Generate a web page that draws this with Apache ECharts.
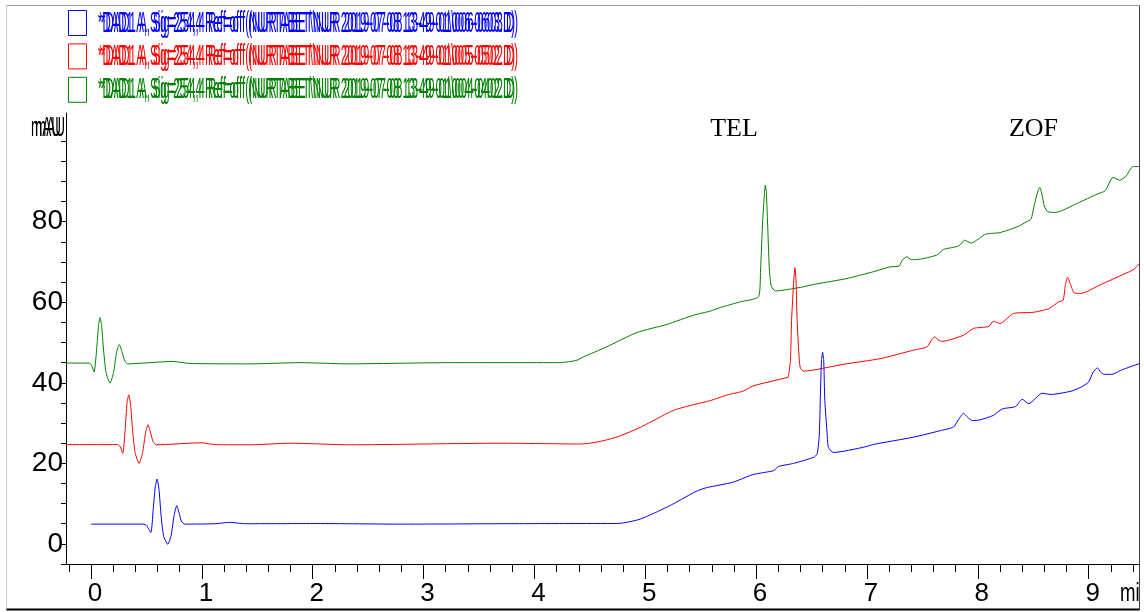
<!DOCTYPE html>
<html>
<head>
<meta charset="utf-8">
<script src="https://cdn.jsdelivr.net/npm/echarts@6/dist/echarts.min.js"></script>
<style>
  html, body { margin: 0; padding: 0; background: #fff; }
  #chart { width: 1144px; height: 612px; }
</style>
</head>
<body>
<div id="chart"></div>
<script>
// Run names and colours (one per overlaid DAD trace)
const runNames = [
  '*DAD1 A, Sig=254,4 Ref=off (NURTABET\\NUR 2019-07-08 13-49-01\\006-0603.D)',
  '*DAD1 A, Sig=254,4 Ref=off (NURTABET\\NUR 2019-07-08 13-49-01\\005-0502.D)',
  '*DAD1 A, Sig=254,4 Ref=off (NURTABET\\NUR 2019-07-08 13-49-01\\004-0402.D)'
];
const runColors = ['#0000ff', '#ff0000', '#008000'];

// Traces as [time (min), signal (mAU)], already carrying the overlay offsets
const blueTrace = [
  [0, 4.9], [0.469, 4.9], [0.50, 4.6], [0.539, 2.8], [0.560, 8.2], [0.578, 13.9], [0.596, 16.1],
  [0.614, 13.2], [0.632, 7.0], [0.654, 2.0], [0.692, -0.1], [0.722, 2.0], [0.749, 7.0], [0.773, 9.5],
  [0.794, 7.7], [0.817, 5.5], [0.848, 4.9], [1.12, 5.0], [1.25, 5.35], [1.39, 5.0], [2.04, 5.05],
  [2.79, 4.9], [3.69, 5.0], [4.32, 5.05], [4.75, 5.05], [4.86, 5.5], [4.955, 6.15], [5.11, 8.0],
  [5.25, 9.9], [5.47, 13.2], [5.56, 14.0], [5.79, 15.3], [5.97, 17.2], [6.16, 18.2], [6.20, 19.2],
  [6.34, 20.0], [6.52, 21.5], [6.55, 22.3], [6.57, 26.9], [6.58, 36.9], [6.59, 45.6], [6.60, 47.6],
  [6.61, 45.6], [6.62, 35.6], [6.64, 27.6], [6.65, 24.2], [6.67, 23.2], [6.70, 22.7], [6.97, 24.0],
  [7.06, 24.7], [7.42, 26.5], [7.66, 28.1], [7.78, 29.0], [7.82, 30.6], [7.87, 32.4], [7.91, 31.4],
  [7.95, 30.6], [8.02, 30.8], [8.14, 31.9], [8.22, 33.5], [8.34, 34.1], [8.40, 35.9], [8.46, 34.8],
  [8.58, 37.4], [8.66, 37.1], [8.84, 37.9], [8.93, 38.9], [9.00, 40.2], [9.04, 42.6], [9.08, 43.7],
  [9.11, 42.6], [9.14, 42.1], [9.21, 42.1], [9.29, 43.1], [9.47, 44.9]
];
const redTrace = [
  [-0.226, 24.65], [0.237, 24.65], [0.262, 24.2], [0.286, 22.5], [0.307, 28.1], [0.325, 35.1],
  [0.340, 37.0], [0.357, 34.4], [0.375, 28.1], [0.397, 22.7], [0.433, 20.0], [0.465, 22.7],
  [0.492, 27.6], [0.514, 29.6], [0.537, 27.6], [0.560, 25.4], [0.587, 24.6], [1.0, 25.1],
  [1.12, 24.65], [1.435, 24.6], [1.796, 25.0], [2.338, 24.6], [3.69, 25.0], [4.413, 24.8],
  [4.50, 25.0], [4.62, 25.6], [4.75, 26.6], [4.87, 27.9], [4.96, 29.0], [5.10, 31.0], [5.25, 33.1],
  [5.41, 34.4], [5.59, 35.6], [5.74, 37.0], [5.88, 37.9], [5.97, 39.2], [6.28, 41.3], [6.29, 41.4],
  [6.31, 45.6], [6.32, 55.5], [6.34, 65.5], [6.35, 68.6], [6.36, 65.5], [6.37, 55.5], [6.39, 45.6],
  [6.40, 43.6], [6.43, 42.9], [6.79, 44.6], [7.12, 46.0], [7.42, 48.1], [7.54, 48.9], [7.58, 50.5],
  [7.61, 51.4], [7.65, 50.5], [7.68, 50.3], [7.87, 51.8], [7.96, 53.5], [8.10, 54.0], [8.14, 55.3],
  [8.20, 54.7], [8.32, 57.2], [8.50, 57.5], [8.64, 58.4], [8.73, 60.1], [8.77, 60.5], [8.79, 64.2],
  [8.81, 66.2], [8.84, 64.2], [8.87, 62.3], [8.93, 62.2], [9.11, 64.4], [9.32, 67.0], [9.41, 68.2],
  [9.47, 70.0]
];
const greenTrace = [
  [-0.226, 44.9], [-0.015, 44.9], [0.005, 44.3], [0.027, 42.7], [0.050, 48.1], [0.068, 54.3],
  [0.081, 56.2], [0.095, 54.3], [0.113, 48.1], [0.135, 42.6], [0.171, 39.9], [0.203, 42.6],
  [0.230, 47.6], [0.255, 49.5], [0.280, 47.6], [0.302, 45.6], [0.328, 44.7], [0.734, 45.3],
  [0.894, 44.8], [1.435, 44.7], [1.886, 45.0], [2.31, 44.7], [3.24, 45.0], [4.23, 45.0],
  [4.383, 45.6], [4.44, 46.4], [4.65, 48.9], [4.925, 52.5], [5.196, 54.5], [5.436, 56.8],
  [5.587, 57.8], [5.677, 58.7], [5.857, 60.1], [6.023, 61.4], [6.04, 68.0], [6.06, 80.5],
  [6.075, 86.7], [6.083, 89.1], [6.092, 87.4], [6.106, 77.9], [6.12, 68.0], [6.137, 64.0],
  [6.173, 62.8], [6.40, 63.7], [6.535, 64.5], [6.82, 65.9], [7.06, 67.6], [7.21, 68.8], [7.29, 69.0],
  [7.32, 70.5], [7.36, 71.3], [7.40, 70.6], [7.44, 70.6], [7.63, 71.7], [7.69, 73.1], [7.83, 74.0],
  [7.88, 75.4], [7.94, 74.7], [8.07, 76.9], [8.20, 77.3], [8.37, 78.9], [8.44, 80.0], [8.48, 80.6],
  [8.51, 84.2], [8.54, 87.4], [8.56, 88.5], [8.58, 86.7], [8.60, 83.9], [8.63, 82.5], [8.70, 82.3],
  [8.90, 84.6], [9.08, 86.9], [9.15, 87.7], [9.22, 91.0], [9.28, 90.3], [9.34, 91.4], [9.40, 93.7],
  [9.47, 93.7]
];

// Axis ticks and labels
const xMajorTicks = [0, 1, 2, 3, 4, 5, 6, 7, 8, 9];
const xMinorTicks = [];
for (let i = -1; i <= 47; i++) {
  if (i % 5 !== 0) xMinorTicks.push(+(i * 0.2).toFixed(1));
}
const yTicks = [];
for (let v = -5; v <= 100; v += 5) yTicks.push(v);
const yLabelValues = [0, 20, 40, 60, 80];

// Peak annotations
const peakNames = ['TEL', 'ZOF'];
const yUnit = 'mAU';
const xUnit = 'min';

const X_MIN = -0.226, X_MAX = 9.45;
const Y_MIN = -5, Y_MAX = 107;

const sansFont = '"Liberation Sans", Arial, sans-serif';
const serifFont = '"Liberation Serif", "Times New Roman", serif';

// Measure a string so that condensed captions can be fitted to a width
const measureCtx = document.createElement('canvas').getContext('2d');
function textWidth(str, size, family) {
  measureCtx.font = size + 'px ' + family;
  return measureCtx.measureText(str).width;
}

const chart = echarts.init(document.getElementById('chart'), null, { renderer: 'canvas' });

const traces = [blueTrace, redTrace, greenTrace];

const graphic = [];
// Legend: open squares with tightly packed run names (printed twice, slightly offset, like the report)
runNames.forEach((name, i) => {
  const top = 10 + i * 33.4;
  graphic.push({
    type: 'rect', left: 68, top: top, z: 10,
    shape: { x: 0, y: 0, width: 18, height: 25 },
    style: { fill: '#fff', stroke: runColors[i], lineWidth: 1 }
  });
  const fs = 29;
  const w = textWidth(name, fs, sansFont);
  [0, 3].forEach(dx => {
    graphic.push({
      type: 'text', x: 98 + dx, y: top + 13.5, z: 10,
      scaleX: 417 / w,
      style: { text: name, fill: runColors[i], font: fs + 'px ' + sansFont,
               textAlign: 'left', textVerticalAlign: 'middle' }
    });
  });
});
// Unit labels
{
  const fs = 28;
  const w = textWidth(yUnit, fs, sansFont);
  [0, 4].forEach(dx => {
    graphic.push({
      type: 'text', x: 31 + dx, y: 128, z: 10, scaleX: 30 / w,
      style: { text: yUnit, fill: '#000', font: fs + 'px ' + sansFont, textAlign: 'left', textVerticalAlign: 'middle' }
    });
  });
}
{
  const fs = 26;
  const w = textWidth(xUnit, fs, sansFont);
  graphic.push({
    type: 'text', x: 1120, y: 594, z: 10, scaleX: 30 / w,
    style: { text: xUnit, fill: '#000', font: fs + 'px ' + sansFont, textAlign: 'left', textVerticalAlign: 'middle' }
  });
}
// Peak names
graphic.push({
  type: 'text', x: 734, y: 129, z: 10,
  style: { text: peakNames[0], fill: '#000', font: '26px ' + serifFont, textAlign: 'center', textVerticalAlign: 'middle' }
});
graphic.push({
  type: 'text', x: 1033.5, y: 129, z: 10,
  style: { text: peakNames[1], fill: '#000', font: '26px ' + serifFont, textAlign: 'center', textVerticalAlign: 'middle' }
});
// Outer frame; the right edge also trims the unit text
graphic.push({ type: 'rect', shape: { x: 1139.5, y: 0, width: 10, height: 612 }, style: { fill: '#fff' }, z: 20 });
graphic.push({ type: 'line', shape: { x1: 6.5, y1: 5.5, x2: 1139.5, y2: 5.5 }, style: { stroke: '#a0a0a0', lineWidth: 1 }, z: 21 });
graphic.push({ type: 'line', shape: { x1: 6.5, y1: 5.5, x2: 6.5, y2: 609.5 }, style: { stroke: '#c8c8c8', lineWidth: 1 }, z: 21 });
graphic.push({ type: 'line', shape: { x1: 1139.5, y1: 5.5, x2: 1139.5, y2: 609.5 }, style: { stroke: '#404040', lineWidth: 1 }, z: 21 });
graphic.push({ type: 'line', shape: { x1: 6.5, y1: 609.5, x2: 1139.5, y2: 609.5 }, style: { stroke: '#000', lineWidth: 2 }, z: 21 });

const option = {
  animation: false,
  backgroundColor: '#fff',
  grid: { left: 66, top: 113, right: 5.5, bottom: 48 },
  xAxis: [
    {
      type: 'value', min: X_MIN, max: X_MAX, position: 'bottom',
      axisLine: { show: true, onZero: false, lineStyle: { color: '#000', width: 1 } },
      axisTick: { show: true, length: 15, customValues: xMajorTicks, lineStyle: { color: '#000', width: 1 } },
      axisLabel: { customValues: xMajorTicks, color: '#000', fontSize: 26, fontFamily: sansFont,
                   margin: 17, padding: [0, 0, 0, 8] },
      splitLine: { show: false }
    },
    {
      type: 'value', min: X_MIN, max: X_MAX, position: 'bottom',
      axisLine: { show: false, onZero: false },
      axisTick: { show: true, length: 8, customValues: xMinorTicks, lineStyle: { color: '#000', width: 1 } },
      axisLabel: { show: false },
      splitLine: { show: false }
    }
  ],
  yAxis: {
    type: 'value', min: Y_MIN, max: Y_MAX,
    axisLine: { show: true, onZero: false, lineStyle: { color: '#000', width: 1 } },
    axisTick: { show: true, length: 5, customValues: yTicks, lineStyle: { color: '#000', width: 1 } },
    axisLabel: { customValues: yLabelValues, color: '#000', fontSize: 28, fontFamily: sansFont, margin: 3 },
    splitLine: { show: false }
  },
  series: traces.map((data, i) => ({
    type: 'line',
    name: runNames[i],
    data: data,
    xAxisIndex: 0,
    yAxisIndex: 0,
    showSymbol: false,
    symbol: 'none',
    smooth: 0.2,
    clip: true,
    lineStyle: { color: runColors[i], width: 1 },
    z: 3 - i
  })),
  graphic: graphic
};

chart.setOption(option);
</script>
</body>
</html>
